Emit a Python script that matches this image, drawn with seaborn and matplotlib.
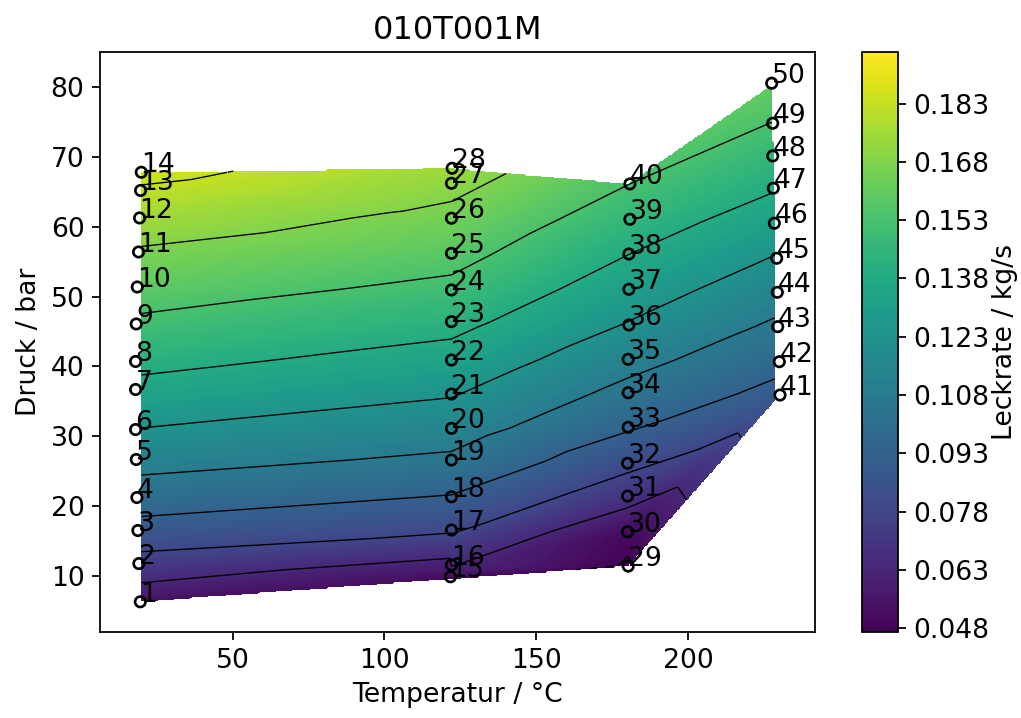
import numpy as np
import matplotlib
matplotlib.use("Agg")
import matplotlib.pyplot as plt
import matplotlib.tri as mtri
import seaborn as sns

# Measurement points: temperature (°C), pressure (bar), leak rate (kg/s)
temperature = [
    19.58, 19.12, 18.79, 18.46, 18.26, 18.03, 18.03, 18.03, 18.26, 18.59, 19.02, 19.35, 19.68, 19.91,
    121.75, 122.08, 122.08, 122.08, 122.08, 122.08, 122.08, 122.08, 122.08, 122.08, 122.08, 122.08, 122.08, 122.30,
    180.29, 180.09, 180.09, 180.09, 180.29, 180.29, 180.29, 180.52, 180.52, 180.52, 180.85, 180.85,
    230.29, 230.06, 229.53, 229.40, 229.20, 228.41, 228.08, 227.88, 227.88, 227.55,
]
pressure = [
    6.32, 11.79, 16.52, 21.24, 26.68, 30.97, 36.70, 40.71, 46.08, 51.37, 56.38, 61.25, 65.18, 67.79,
    9.90, 11.58, 16.59, 21.35, 26.61, 31.14, 36.05, 40.92, 46.41, 50.94, 56.19, 61.21, 66.21, 68.36,
    11.43, 16.34, 21.45, 26.14, 31.29, 36.24, 41.02, 45.93, 51.04, 56.09, 61.06, 66.12,
    35.91, 40.68, 45.69, 50.61, 55.48, 60.49, 65.50, 70.12, 74.80, 80.53,
]
leak_rate = [
    0.0536, 0.0727, 0.0877, 0.1005, 0.1134, 0.1227, 0.1344, 0.1417, 0.1508, 0.1591, 0.1667, 0.1752, 0.1815, 0.1865,
    0.0520, 0.0639, 0.0798, 0.0923, 0.1055, 0.1147, 0.1240, 0.1328, 0.1423, 0.1498, 0.1576, 0.1646, 0.1717, 0.1747,
    0.0470, 0.0505, 0.0691, 0.0817, 0.0945, 0.1040, 0.1130, 0.1221, 0.1303, 0.1381, 0.1455, 0.1530,
    0.0885, 0.0968, 0.1055, 0.1139, 0.1221, 0.1307, 0.1390, 0.1458, 0.1527, 0.1611,
]
point_labels = [str(i) for i in range(1, 51)]

rate_range = (0.0470, 0.1963)
cbar_ticks = [0.048, 0.063, 0.078, 0.093, 0.108, 0.123, 0.138, 0.153, 0.168, 0.183]
line_levels = cbar_ticks
x_ticks = [50, 100, 150, 200]
y_ticks = [10, 20, 30, 40, 50, 60, 70, 80]

T = np.asarray(temperature)
P = np.asarray(pressure)
R = np.asarray(leak_rate)

plt.rcParams["font.size"] = 12

fig = plt.figure(figsize=(1021 / 160, 718 / 160), dpi=160)
ax = fig.add_axes([0.0979, 0.1198, 0.7003, 0.8078])
cax = fig.add_axes([0.8443, 0.1198, 0.0353, 0.8078])

# Linear interpolation on the Delaunay triangulation of the measurement points
tri = mtri.Triangulation(T, P)
interp = mtri.LinearTriInterpolator(tri, R)
gx = np.linspace(20.0, 228.6, 420)
gy = np.linspace(P.min(), P.max(), 420)
GX, GY = np.meshgrid(gx, gy)
GZ = interp(GX, GY)

# Hide the area above the highest pressure reached in each temperature series
series = np.round(T / 20)
keys = np.unique(series)
series_T = [T[series == k].mean() for k in keys]
series_top = [P[series == k].max() for k in keys]
top = np.interp(GX, series_T, series_top)
GZ = np.ma.masked_where(np.ma.getmaskarray(GZ) | (GY > top), GZ)

cf = ax.contourf(GX, GY, GZ, levels=np.linspace(*rate_range, 121), cmap="viridis")
ax.contour(GX, GY, GZ, levels=line_levels, colors="k", linewidths=0.6)

sns.scatterplot(x=T, y=P, ax=ax, marker="o", s=22, linewidth=1.2, legend=False, zorder=3)
pts = ax.collections[-1]
pts.set_facecolor("none")
pts.set_edgecolor("k")

for t, p, lab in zip(T, P, point_labels):
    ax.text(t, p, lab, fontsize=12, zorder=4)

ax.set_xlim(6.3, 241.8)
ax.set_ylim(2.0, 85.0)
ax.set_xticks(x_ticks)
ax.set_yticks(y_ticks)
ax.set_xlabel("Temperatur / °C")
ax.set_ylabel("Druck / bar")
ax.set_title("010T001M")

cb = fig.colorbar(cf, cax=cax, ticks=cbar_ticks, format="%.3f")
cb.set_label("Leckrate / kg/s", labelpad=1)

fig.savefig("out.png", dpi=160)
